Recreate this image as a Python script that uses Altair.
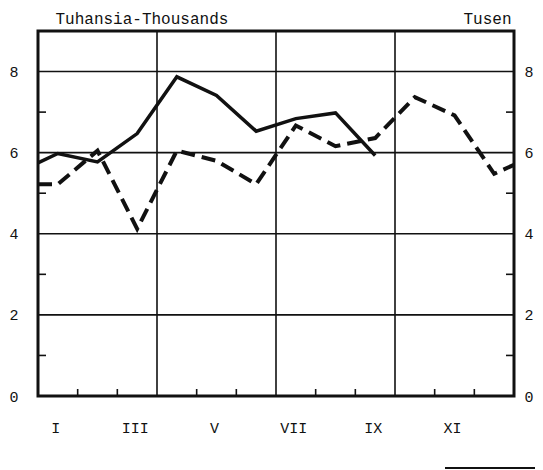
import altair as alt
import pandas as pd

# --- data ---
months = ["I", "II", "III", "IV", "V", "VI", "VII", "VIII", "IX", "X", "XI", "XII"]
solid_x = [0, 0.5, 1.5, 2.5, 3.5, 4.5, 5.5, 6.5, 7.5, 8.5]
solid_y = [5.75, 5.98, 5.77, 6.47, 7.87, 7.41, 6.53, 6.84, 6.98, 5.93]
dashed_x = [0, 0.5, 1.5, 2.5, 3.5, 4.5, 5.5, 6.5, 7.5, 8.5, 9.5, 10.5, 11.5, 12]
dashed_y = [5.22, 5.22, 6.05, 4.12, 6.05, 5.80, 5.22, 6.67, 6.16, 6.36, 7.37, 6.92, 5.48, 5.70]
y_labels = [0, 2, 4, 6, 8]
x_label_pos = [0.5, 2.5, 4.5, 6.5, 8.5, 10.5]
grid_x = [3, 6, 9]
grid_y = [2, 4, 6, 8]
minor_y = [1, 3, 5, 7]
minor_x = [1, 2, 4, 5, 7, 8, 10, 11]

W, H = 476, 365
FONT = "Liberation Mono"
INK = "#111111"

xs = alt.Scale(domain=[0, 12], nice=False, zero=False)
ys = alt.Scale(domain=[0, 9], nice=False, zero=False)

solid_df = pd.DataFrame({"m": solid_x, "v": solid_y})
dashed_df = pd.DataFrame({"m": dashed_x, "v": dashed_y})

label_expr = "[" + ",".join("'%s'" % m for m in months) + "][floor(datum.value)]"

x_axis = alt.Axis(values=x_label_pos, labelExpr=label_expr, domain=False, ticks=False,
                  grid=False, labelPadding=24, labelOffset=-2.5, labelFont=FONT,
                  labelFontSize=15, labelColor=INK, title=None, labelAngle=0)

left_axis = alt.Axis(values=y_labels, domain=False, ticks=False, grid=False,
                     labelPadding=20, labelFont=FONT, labelFontSize=15, labelColor=INK,
                     title="Tuhansia-Thousands", titleAngle=0, titleAlign="left",
                     titleBaseline="alphabetic", titleX=17, titleY=-8, titleFont=FONT,
                     titleFontSize=16, titleFontWeight="normal", titleColor=INK)

right_axis = alt.Axis(values=y_labels, orient="right", domain=False, ticks=False, grid=False,
                      labelPadding=10, labelFont=FONT, labelFontSize=15, labelColor=INK,
                      title="Tusen", titleAngle=0, titleAlign="right",
                      titleBaseline="alphabetic", titleX=-3, titleY=-8, titleFont=FONT,
                      titleFontSize=16, titleFontWeight="normal", titleColor=INK)

gx = alt.Chart(pd.DataFrame({"g": grid_x})).mark_rule(color=INK, strokeWidth=1.6).encode(
    x=alt.X("g:Q", scale=xs, axis=x_axis))
gy = alt.Chart(pd.DataFrame({"g": grid_y})).mark_rule(color=INK, strokeWidth=1.6).encode(
    y=alt.Y("g:Q", scale=ys, axis=None))

mt_left = alt.Chart(pd.DataFrame({"t": minor_y})).mark_rule(color=INK, strokeWidth=1.6).encode(
    y=alt.Y("t:Q", scale=ys, axis=None), x=alt.value(0), x2=alt.value(8))
mt_right = alt.Chart(pd.DataFrame({"t": minor_y})).mark_rule(color=INK, strokeWidth=1.6).encode(
    y=alt.Y("t:Q", scale=ys, axis=None), x=alt.value(W - 8), x2=alt.value(W))
mt_bottom = alt.Chart(pd.DataFrame({"t": minor_x})).mark_rule(color=INK, strokeWidth=1.6).encode(
    x=alt.X("t:Q", scale=xs, axis=x_axis), y=alt.value(H - 7), y2=alt.value(H))

solid = alt.Chart(solid_df).mark_line(color=INK, strokeWidth=3.5).encode(
    x=alt.X("m:Q", scale=xs, axis=x_axis),
    y=alt.Y("v:Q", scale=ys, axis=left_axis))

dashed = alt.Chart(dashed_df).mark_line(color=INK, strokeWidth=4, strokeDash=[14, 7]).encode(
    x=alt.X("m:Q", scale=xs, axis=x_axis),
    y=alt.Y("v:Q", scale=ys, axis=right_axis))

# short rule at the bottom right, below the chart
foot = alt.Chart(pd.DataFrame({"a": [0]})).mark_rule(color=INK, strokeWidth=2).encode(
    x=alt.value(407), x2=alt.value(W + 21), y=alt.value(437))

chart = alt.layer(gx, gy, mt_left, mt_right, mt_bottom, solid, dashed, foot).resolve_axis(
    y="independent"
).properties(
    width=W, height=H,
    autosize=alt.AutoSizeParams(type="none"),
    padding={"left": 30, "top": 23, "right": 21, "bottom": 74},
    background="white",
).configure_view(stroke=INK, strokeWidth=3)

chart.save("out.html", embed_options={"renderer": "svg", "actions": False})
